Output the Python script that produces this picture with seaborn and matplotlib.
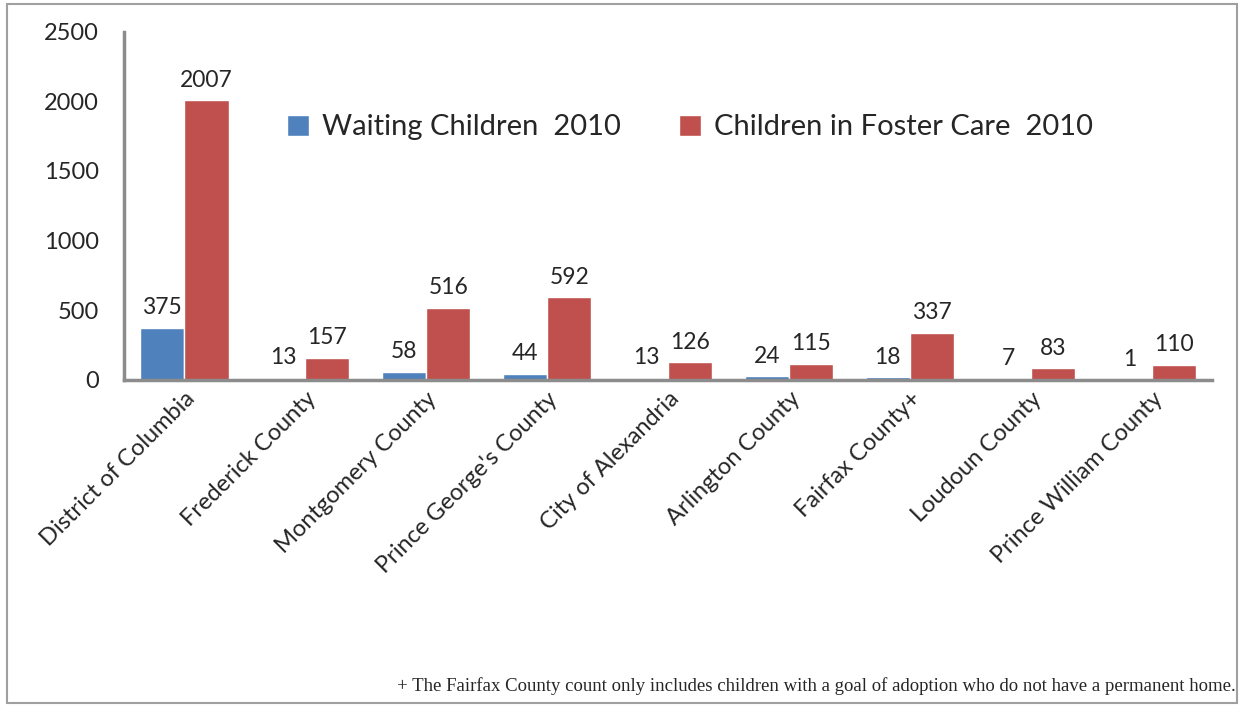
import pandas as pd
import matplotlib.pyplot as plt
import seaborn as sns
from matplotlib.patches import Rectangle

# Data
counties = ['District of Columbia', 'Frederick County', 'Montgomery County',
            "Prince George's County", 'City of Alexandria', 'Arlington County',
            'Fairfax County+', 'Loudoun County', 'Prince William County']
waiting = [375, 13, 58, 44, 13, 24, 18, 7, 1]
foster = [2007, 157, 516, 592, 126, 115, 337, 83, 110]
series = ['Waiting Children  2010', 'Children in Foster Care  2010']
colors = ['#4F81BD', '#C0504D']

df = pd.DataFrame({
    'County': counties * 2,
    'Count': waiting + foster,
    'Series': [series[0]] * len(counties) + [series[1]] * len(counties),
})

sns.set_style('white')
plt.rcParams['font.family'] = ['Lato', 'DejaVu Sans']

fig = plt.figure(figsize=(12.42, 7.06), dpi=100)
ax = fig.add_axes([0.0998, 0.462, 0.8762, 0.493])

sns.barplot(data=df, x='County', y='Count', hue='Series', palette=colors,
            width=0.73, saturation=1, ax=ax)

# Value labels
for cont in ax.containers:
    ax.bar_label(cont, fmt='%d', padding=7, fontsize=16.5)

ax.set_ylim(0, 2500)
ax.set_yticks([0, 500, 1000, 1500, 2000, 2500])
ax.set_xlim(-0.5, len(counties) - 0.5)
ax.set_xlabel('')
ax.set_ylabel('')
ax.tick_params(axis='y', labelsize=17, length=0, pad=18)
ax.tick_params(axis='x', labelsize=17, length=0, pad=6)
plt.setp(ax.get_xticklabels(), rotation=45, ha='right', rotation_mode='anchor')

for side in ['top', 'right']:
    ax.spines[side].set_visible(False)
for side in ['left', 'bottom']:
    ax.spines[side].set_color('#8C8C8C')
    ax.spines[side].set_linewidth(2.5)

# Legend
ax.legend(loc='center', bbox_to_anchor=(0.52, 0.725), ncol=2, frameon=False,
          fontsize=21, handlelength=0.75, handleheight=0.75, handletextpad=0.45,
          columnspacing=2.0)

# Footnote
fig.text(0.995, 0.028,
         '+ The Fairfax County count only includes children with a goal of adoption who do not have a permanent home.',
         ha='right', va='center', fontsize=13.5, family='Liberation Serif')

# Figure border
fig.patches.append(Rectangle((0.006, 0.004), 0.99, 0.99, transform=fig.transFigure,
                             fill=False, edgecolor='#A0A0A0', linewidth=1.5))

plt.savefig('out.png', dpi=100)
